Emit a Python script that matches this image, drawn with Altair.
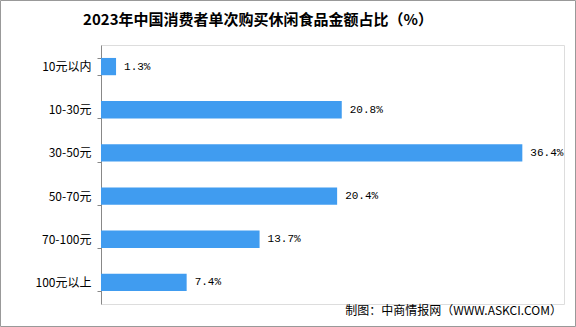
import altair as alt
import pandas as pd

categories = ["10元以内", "10-30元", "30-50元", "50-70元", "70-100元", "100元以上"]
values = [1.3, 20.8, 36.4, 20.4, 13.7, 7.4]

title_text = "2023年中国消费者单次购买休闲食品金额占比（%）"
credit_text = "制图：中商情报网（WWW.ASKCI.COM）"

df = pd.DataFrame({"category": categories, "value": values})

W, H = 463, 259
FONT = "Noto Sans CJK SC"
MONO = "Liberation Mono"

base = alt.Chart(df)

bars = base.mark_bar(color="#409cf0").encode(
    y=alt.Y("category:N", sort=categories,
            scale=alt.Scale(paddingInner=0.6, paddingOuter=0.3),
            axis=alt.Axis(title=None, tickBand="extent", tickSize=4, labelPadding=6,
                          domainColor="#888888", tickColor="#888888", domainWidth=1,
                          labelFont=FONT, labelFontSize=12, labelColor="#000000",
                          grid=False)),
    x=alt.X("value:Q", scale=alt.Scale(domain=[0, 40], nice=False), axis=None),
)

labels = base.transform_calculate(
    label="format(datum.value, '.1f') + '%'"
).mark_text(align="left", baseline="middle", dx=8, font=MONO, fontSize=11, color="#000000").encode(
    y=alt.Y("category:N", sort=categories),
    x=alt.X("value:Q"),
    text="label:N",
)

one = alt.Data(values=[{"k": 1}])

title = alt.Chart(one).mark_text(align="center", baseline="middle", font=FONT, fontSize=15,
                                 fontWeight="bold", color="#000000", text=title_text).encode(
    x=alt.value(157), y=alt.value(-25)
)

credit = alt.Chart(one).mark_text(align="right", baseline="middle", font=FONT, fontSize=12,
                                  color="#000000", text=credit_text).encode(
    x=alt.value(W - 2), y=alt.value(266)
)

border = alt.Chart(one).mark_rect(fill=None, stroke="#999999", strokeWidth=1).encode(
    x=alt.value(-100.5), x2=alt.value(474.5), y=alt.value(-44.5), y2=alt.value(281.5)
)

chart = alt.layer(bars, labels, title, credit, border).properties(
    width=W, height=H,
    padding={"left": 101, "top": 45, "right": 12, "bottom": 23},
    autosize=alt.AutoSizeParams(type="none"),
).configure_view(stroke=None).configure(background="white")

chart.save("out.html", embed_options={"renderer": "svg", "actions": False})
